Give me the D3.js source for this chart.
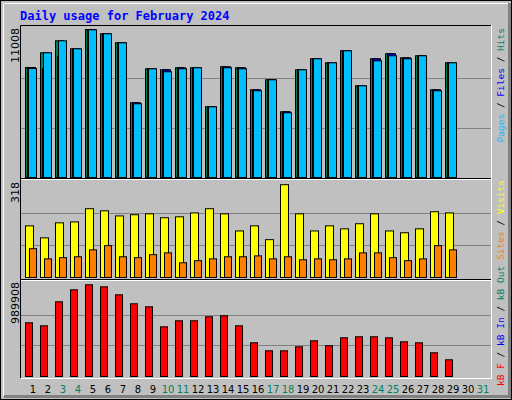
<!DOCTYPE html>
<html>
<head>
<meta charset="utf-8">
<script src="https://cdn.jsdelivr.net/npm/d3@7"></script>
<style>
  body { margin: 0; background: #fff; }
  svg { display: block; }
</style>
</head>
<body>
<svg id="chart" width="512" height="400"></svg>
<script>
// daily values
const days = d3.range(1, 32);
const weekends = [3, 4, 10, 11, 17, 18, 24, 25, 31];
const hits  = [8182, 9275, 10168, 9573, 11008, 10689, 10019, 5556, 8085, 8011, 8160, 8160, 5259, 8234, 8160, 6523, 7267, 4887, 8011, 8829, 8531, 9424, 6821, 8829, 9201, 8903, 9052, 6523, 8531];
const files = [8182, 8085, 9000, 9573, 11008, 10689, 10019, 5556, 8085, 8011, 8160, 8160, 5259, 8234, 8160, 6523, 7267, 4887, 8011, 8829, 8531, 9424, 6821, 8829, 9201, 8903, 9052, 6523, 8531];
const pages = [8108, 9275, 10168, 9573, 10986, 10689, 10019, 5482, 8085, 7862, 8085, 8160, 5259, 8160, 8085, 6449, 7267, 4813, 8011, 8829, 8531, 9424, 6821, 8680, 9052, 8829, 9052, 6449, 8531];
const visits = [172, 132, 182, 185, 229, 222, 205, 209, 212, 199, 202, 215, 229, 212, 155, 172, 126, 309, 212, 155, 172, 162, 179, 212, 155, 149, 162, 219, 215];
const sites  = [96, 62, 66, 69, 92, 106, 69, 66, 76, 82, 49, 56, 62, 69, 69, 72, 62, 69, 59, 62, 59, 62, 82, 82, 66, 56, 62, 106, 92];
const kbytes = [579700, 547300, 806400, 935900, 989908, 968300, 882000, 784800, 752400, 536500, 601300, 601300, 644500, 655300, 547300, 363800, 277400, 277400, 320600, 385400, 331400, 417800, 428600, 428600, 417800, 374600, 363800, 255800, 180300];
const maxHits = 11008, maxVisits = 318, maxKB = 989908;

const svg = d3.select('#chart');
const mono = 'DejaVu Sans Mono';
const green = '#00805f';

// frame
svg.append('rect').attr('x', 0.5).attr('y', 0.5).attr('width', 511).attr('height', 399)
    .attr('fill', '#c0c0c0').attr('stroke', '#000');
svg.append('path').attr('d', 'M3.5,396V3.5H508').attr('fill', 'none').attr('stroke', '#fff');
svg.append('path').attr('d', 'M4,396.5H509.5V3').attr('fill', 'none').attr('stroke', '#808080').attr('stroke-width', 3);

svg.append('text').attr('x', 20).attr('y', 20)
    .attr('font-family', mono).attr('font-weight', 'bold').attr('font-size', 12)
    .attr('fill', '#0000ff').text('Daily usage for February 2024');

const x = d3.scaleLinear().domain([1, 31]).range([25, 475]);
const yTop = d3.scaleLinear().domain([0, maxHits]).range([177, 29]);
const yMid = d3.scaleLinear().domain([0, maxVisits]).range([277, 181.5]);
const yBot = d3.scaleLinear().domain([0, maxKB]).range([376, 284.3]);

// plot box
svg.append('path').attr('d', 'M20.5,378V25.5H491').attr('fill', 'none').attr('stroke', '#000');
svg.append('path').attr('d', 'M21,378.5H491.5V25').attr('fill', 'none').attr('stroke', '#fff');
[[178.5, '#000'], [179.5, '#fff'], [279.5, '#000'], [280.5, '#fff']].forEach(([yy, c]) =>
    svg.append('line').attr('x1', 21).attr('x2', 491).attr('y1', yy).attr('y2', yy).attr('stroke', c));

function grid(scale, max) {
    [1 / 3, 2 / 3].forEach(f => {
        const yy = Math.round(scale(max * f)) + 0.5;
        svg.append('line').attr('x1', 21).attr('x2', 491).attr('y1', yy).attr('y2', yy)
            .attr('stroke', '#808080');
    });
}
grid(yTop, maxHits); grid(yMid, maxVisits); grid(yBot, maxKB);

function bars(data, scale, dx, w, fill) {
    svg.append('g').selectAll('rect').data(data).enter().append('rect')
        .attr('x', (d, i) => x(i + 1) + dx + 0.5)
        .attr('y', d => scale(d) + 0.5)
        .attr('width', w)
        .attr('height', d => scale(0) - scale(d))
        .attr('fill', fill).attr('stroke', '#000');
}
bars(hits, yTop, 0, 8, green);
bars(files, yTop, 2, 8, '#0000ff');
bars(pages, yTop, 3, 8, '#00bfff');
bars(visits, yMid, 0, 8, '#ffff00');
bars(sites, yMid, 4, 7, '#ff8000');
bars(kbytes, yBot, 0, 7, '#ff0000');

// day labels
svg.append('g').selectAll('text').data(days).enter().append('text')
    .attr('x', d => x(d) + 8).attr('y', 393)
    .attr('text-anchor', 'middle').attr('font-family', 'DejaVu Sans').attr('font-size', 10)
    .attr('fill', d => weekends.includes(d) ? green : '#000')
    .text(d => d);

// max labels
[[maxHits, 28], [maxVisits, 182], [maxKB, 282]].forEach(([v, yy]) =>
    svg.append('text').attr('transform', `translate(19,${yy}) rotate(-90)`)
        .attr('text-anchor', 'end').attr('font-family', 'DejaVu Sans').attr('font-size', 11)
        .attr('fill', '#000').text(v));

// legends on the right
function legend(parts, yy) {
    const t = svg.append('text').attr('transform', `translate(504,${yy}) rotate(-90)`)
        .attr('text-anchor', 'end').attr('font-family', mono).attr('font-size', 9.5);
    parts.forEach(([s, c]) => t.append('tspan').attr('fill', c).text(s));
}
legend([['Pages', '#00bfff'], [' / ', '#000'], ['Files', '#0000ff'], [' / ', '#000'], ['Hits', green]], 28);
legend([['kB F', '#ff0000'], [' / ', '#000'], ['kB In', '#0000ff'], [' / ', '#000'], ['kB Out', green],
        [' ', '#000'], ['Sites', '#ff8000'], [' / ', '#000'], ['Visits', '#ffff00']], 180);
</script>
</body>
</html>
